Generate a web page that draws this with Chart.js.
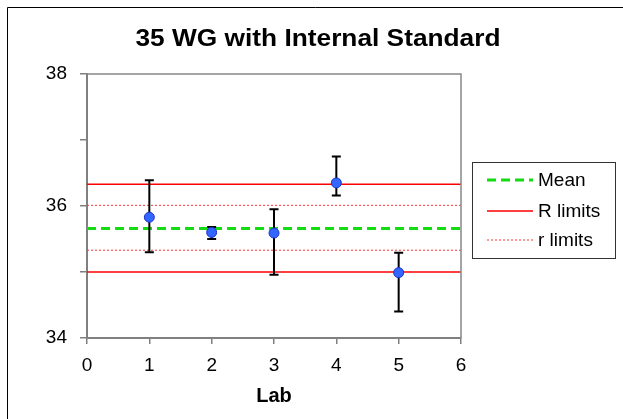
<!DOCTYPE html>
<html>
<head>
<meta charset="utf-8">
<script src="https://cdn.jsdelivr.net/npm/chart.js@4/dist/chart.umd.min.js"></script>
<style>
    html, body { margin: 0; padding: 0; background: #fff; }
    #wrap { position: relative; width: 623px; height: 419px; }
</style>
</head>
<body>
<div id="wrap"><canvas id="chart" width="623" height="419"></canvas></div>
<script>
// --- data ---
const CHART_TITLE = '35 WG with Internal Standard';
const X_TITLE     = 'Lab';

const labs      = [1, 2, 3, 4, 5];
const labMeans  = [35.83, 35.60, 35.59, 36.35, 34.99];
const errHigh   = [36.39, 35.68, 35.95, 36.75, 35.29];
const errLow    = [35.30, 35.50, 34.96, 36.16, 34.40];

const grandMean = 35.66;
const bigR      = [36.33, 35.00];
const smallR    = [36.01, 35.33];

const xRange = [0, 6];
const yRange = [34, 38];

const legendLabels = ['Mean', 'R limits', 'r limits'];

const FONT = "'Liberation Sans', Arial, sans-serif";

function hLine(y) {
    return [{ x: xRange[0], y }, { x: xRange[1], y }];
}

const lineStyles = {
    mean   : { color: '#11dd11', width: 3, dash: [9, 5] },
    bigR   : { color: '#ff0000', width: 1.5, dash: [] },
    smallR : { color: '#ff3333', width: 1, dash: [2, 2] },
};

const datasets = [
    {
        label: legendLabels[0], type: 'line', data: hLine(grandMean),
        borderColor: lineStyles.mean.color, borderWidth: lineStyles.mean.width,
        borderDash: lineStyles.mean.dash, pointRadius: 0, order: 3,
    },
    {
        label: legendLabels[1], type: 'line', data: hLine(bigR[0]),
        borderColor: lineStyles.bigR.color, borderWidth: lineStyles.bigR.width,
        borderDash: lineStyles.bigR.dash, pointRadius: 0, order: 4,
    },
    {
        label: '_R2', type: 'line', data: hLine(bigR[1]),
        borderColor: lineStyles.bigR.color, borderWidth: lineStyles.bigR.width,
        borderDash: lineStyles.bigR.dash, pointRadius: 0, order: 4,
    },
    {
        label: legendLabels[2], type: 'line', data: hLine(smallR[0]),
        borderColor: lineStyles.smallR.color, borderWidth: lineStyles.smallR.width,
        borderDash: lineStyles.smallR.dash, pointRadius: 0, order: 5,
    },
    {
        label: '_r2', type: 'line', data: hLine(smallR[1]),
        borderColor: lineStyles.smallR.color, borderWidth: lineStyles.smallR.width,
        borderDash: lineStyles.smallR.dash, pointRadius: 0, order: 5,
    },
    {
        label: 'Labs', type: 'scatter',
        data: labs.map((x, i) => ({ x, y: labMeans[i] })),
        pointRadius: 5, pointBackgroundColor: '#3366ff',
        pointBorderColor: '#1a33cc', pointBorderWidth: 1, order: 1,
    },
];

// error bars go in right before the lab points so the dots sit on top
const errorBars = {
    id: 'errorBars',
    beforeDatasetDraw(chart, args) {
        if (chart.data.datasets[args.index].label !== 'Labs') return;
        const { ctx, scales: { x, y } } = chart;
        ctx.save();
        ctx.strokeStyle = '#000';
        ctx.lineWidth = 2;
        labs.forEach((lab, i) => {
            const px = x.getPixelForValue(lab);
            const top = y.getPixelForValue(errHigh[i]);
            const bot = y.getPixelForValue(errLow[i]);
            ctx.beginPath();
            ctx.moveTo(px, top); ctx.lineTo(px, bot);
            ctx.moveTo(px - 4.5, top); ctx.lineTo(px + 4.5, top);
            ctx.moveTo(px - 4.5, bot); ctx.lineTo(px + 4.5, bot);
            ctx.stroke();
        });
        ctx.restore();
    },
};

// frame, title and boxed legend like the spreadsheet original
const decorations = {
    id: 'decorations',
    afterDraw(chart) {
        const { ctx, chartArea: a } = chart;
        ctx.save();

        ctx.strokeStyle = '#888';
        ctx.lineWidth = 1.5;
        ctx.beginPath();
        ctx.moveTo(a.left, a.top); ctx.lineTo(a.right, a.top); ctx.lineTo(a.right, a.bottom);
        ctx.stroke();

        ctx.strokeStyle = '#000';
        ctx.lineWidth = 1;
        ctx.beginPath();
        ctx.moveTo(7.5, 419); ctx.lineTo(7.5, 7.5); ctx.lineTo(623, 7.5);
        ctx.stroke();

        // title is a bit wider than its height suggests, stretch it a little
        ctx.fillStyle = '#000';
        ctx.font = `bold 23px ${FONT}`;
        ctx.textAlign = 'center';
        ctx.textBaseline = 'middle';
        const tw = ctx.measureText(CHART_TITLE).width;
        const sx = 365 / tw;
        ctx.save();
        ctx.translate(318, 40);
        ctx.scale(sx, 1);
        ctx.fillText(CHART_TITLE, 0, 0);
        ctx.restore();

        const bx = 472.5, by = 162.5, bw = 143, bh = 96;
        ctx.strokeStyle = '#333';
        ctx.lineWidth = 1;
        ctx.strokeRect(bx, by, bw, bh);

        const rows = [
            { style: lineStyles.mean,   y: 180 },
            { style: lineStyles.bigR,   y: 211 },
            { style: lineStyles.smallR, y: 240 },
        ];
        ctx.font = `19px ${FONT}`;
        ctx.textAlign = 'left';
        rows.forEach((r, i) => {
            ctx.strokeStyle = r.style.color;
            ctx.lineWidth = r.style.width;
            ctx.setLineDash(r.style.dash);
            ctx.beginPath();
            ctx.moveTo(487, r.y); ctx.lineTo(533, r.y);
            ctx.stroke();
            ctx.setLineDash([]);
            ctx.fillStyle = '#000';
            ctx.fillText(legendLabels[i], 538, r.y + 1);
        });

        ctx.restore();
    },
};

new Chart(document.getElementById('chart'), {
    type: 'scatter',
    data: { datasets },
    plugins: [errorBars, decorations],
    options: {
        responsive: false,
        animation: false,
        layout: { padding: { top: 74, right: 162, left: 0, bottom: 0 } },
        plugins: {
            legend: { display: false },
            tooltip: { enabled: false },
        },
        scales: {
            x: {
                type: 'linear', min: xRange[0], max: xRange[1],
                afterFit: (s) => { s.height = 81; },
                ticks: { stepSize: 1, color: '#000', font: { family: FONT, size: 19 }, padding: 10 },
                grid: { drawOnChartArea: false, tickLength: 6, color: '#808080', lineWidth: 1.5 },
                border: { color: '#808080', width: 2 },
                title: {
                    display: true, text: X_TITLE, color: '#000',
                    font: { family: FONT, size: 20, weight: 'bold' },
                    padding: { top: 4, bottom: 11 },
                },
            },
            y: {
                type: 'linear', min: yRange[0], max: yRange[1],
                afterFit: (s) => { s.width = 87; },
                ticks: {
                    stepSize: 1, color: '#000', font: { family: FONT, size: 19 }, padding: 13,
                    callback: (v) => (v % 2 === 0 ? String(v) : ''),
                },
                grid: { drawOnChartArea: false, tickLength: 7, color: '#808080', lineWidth: 1.5 },
                border: { color: '#808080', width: 2 },
            },
        },
    },
});
</script>
</body>
</html>
